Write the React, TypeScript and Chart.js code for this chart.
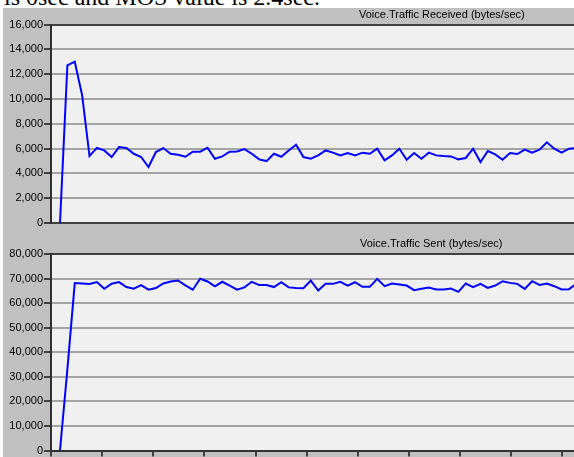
import React, { useEffect, useRef } from 'react';
import { Chart, registerables } from 'chart.js';

Chart.register(...registerables);

// ---- data ----
const RECEIVED: number[] = [
  0, 12700, 13000, 10300, 5400, 6050, 5850, 5320, 6120, 6040, 5580, 5320, 4510, 5720, 6040, 5580, 5500,
  5340, 5750, 5750, 6070, 5180, 5370, 5750, 5770, 5960, 5580, 5130, 4990, 5580, 5340, 5850, 6310,
  5320, 5180, 5450, 5850, 5670, 5450, 5640, 5450, 5670, 5580, 5990, 5050, 5450, 5990, 5100, 5640, 5180,
  5670, 5450, 5400, 5370, 5130, 5240, 5990, 4910, 5800, 5530, 5100, 5640, 5560, 5910, 5670, 5910, 6500,
  5990, 5670, 5990, 6040,
];
const SENT: number[] = [
  0, 33000, 68150, 68000, 67750, 68550, 65870, 67900, 68550, 66540, 65870, 67350, 65460, 66140, 68000,
  68830, 69230, 67200, 65460, 69900, 68830, 66800, 68690, 67080, 65460, 66410, 68690, 67350, 67350, 66540,
  68550, 66410, 66140,
  66080, 69190, 65140, 67840, 67840, 68650, 67160, 68510, 66620, 66620, 69860, 66890, 67970, 67570, 67160,
  65270, 65810, 66350, 65540, 65540, 65950, 64590, 67970, 66490, 67840, 66220, 67160, 68920, 68240, 67840,
  65810, 68920, 67430, 67970, 66890, 65540, 65680, 67900,
];
const RECEIVED_TICKS = [0, 2000, 4000, 6000, 8000, 10000, 12000, 14000, 16000];
const SENT_TICKS = [0, 10000, 20000, 30000, 40000, 50000, 60000, 70000, 80000];
const X_TICKS = [-1.22, 5.714, 12.648, 19.582, 26.516, 33.45, 40.384, 47.318, 54.252, 61.186, 68.12];
const X_MIN = -1.22;
const X_MAX = 69.68;
const TITLE_RECEIVED = 'Voice.Traffic Received (bytes/sec)';
const TITLE_SENT = 'Voice.Traffic Sent (bytes/sec)';
const HEADER_TEXT = 'is 0sec and MOS value is 2.4sec.';

const FONT = 'Liberation Sans, Arial, sans-serif';

const plotBg = {
  id: 'plotBg',
  beforeDraw(chart: any) {
    const { ctx, chartArea } = chart;
    if (!chartArea) return;
    ctx.save();
    ctx.fillStyle = '#f0f0f0';
    ctx.fillRect(chartArea.left, chartArea.top, chartArea.right - chartArea.left, chartArea.bottom - chartArea.top);
    ctx.restore();
  },
};

function fmt(v: number) {
  return v.toLocaleString('en-US');
}

interface PanelProps {
  values: number[];
  yTicks: number[];
  top: number;
  height: number;
  padTop: number;
  padBottom: number;
  showX: boolean;
}

function Panel({ values, yTicks, top, height, padTop, padBottom, showX }: PanelProps) {
  const ref = useRef<HTMLCanvasElement | null>(null);
  useEffect(() => {
    if (!ref.current) return;
    const yMax = yTicks[yTicks.length - 1];
    const chart = new Chart(ref.current, {
      type: 'line',
      data: {
        datasets: [
          {
            data: values.map((v, i) => ({ x: i, y: v })),
            borderColor: '#0000ff',
            borderWidth: 2,
            pointRadius: 0,
            tension: 0,
            fill: false,
          },
        ],
      },
      options: {
        animation: false,
        responsive: false,
        maintainAspectRatio: false,
        devicePixelRatio: 1,
        layout: { padding: { top: padTop, bottom: padBottom, left: 0, right: 0 } },
        plugins: { legend: { display: false }, tooltip: { enabled: false }, title: { display: false } },
        scales: {
          x: {
            type: 'linear',
            display: showX,
            min: X_MIN,
            max: X_MAX,
            afterBuildTicks: (s: any) => {
              s.ticks = X_TICKS.map((v) => ({ value: v }));
            },
            afterFit: (s: any) => {
              s.height = showX ? 6 : 0;
            },
            ticks: { display: false },
            grid: {
              drawOnChartArea: false,
              drawTicks: true,
              tickLength: 6,
              tickColor: '#404040',
              lineWidth: 2,
            },
            border: { display: true, color: '#303030', width: 2 },
          },
          y: {
            type: 'linear',
            min: 0,
            max: yMax,
            afterBuildTicks: (s: any) => {
              s.ticks = yTicks.map((v) => ({ value: v }));
            },
            afterFit: (s: any) => {
              s.width = 48;
            },
            ticks: {
              color: '#000000',
              padding: 1,
              font: { family: FONT, size: 11, lineHeight: 1 },
              callback: (v: any) => fmt(Number(v)),
            },
            grid: {
              color: (c: any) => (c.tick && (c.tick.value === yMax || c.tick.value === 0) ? '#404040' : '#a4a4a4'),
              lineWidth: 2,
              tickLength: 7,
              tickColor: '#404040',
            },
            border: { display: true, color: '#303030', width: 2 },
          },
        },
      } as any,
      plugins: [plotBg],
    });
    return () => chart.destroy();
  }, []);
  return (
    <canvas
      ref={ref}
      width={571}
      height={height}
      style={{ position: 'absolute', left: 3, top, width: 571, height }}
    />
  );
}

export default function App() {
  return (
    <div
      style={{
        position: 'absolute',
        left: 0,
        top: 0,
        width: 574,
        height: 457,
        overflow: 'hidden',
        background: '#ffffff',
      }}
    >
      <div
        style={{
          position: 'absolute',
          left: 4,
          top: -15.5,
          fontFamily: 'Liberation Serif, serif',
          fontSize: 24,
          lineHeight: '24px',
          whiteSpace: 'nowrap',
          color: '#000',
        }}
      >
        {HEADER_TEXT}
      </div>
      <div style={{ position: 'absolute', left: 3, top: 8, width: 571, height: 449, background: '#c0c0c0' }} />
      <Panel values={RECEIVED} yTicks={RECEIVED_TICKS} top={8} height={228} padTop={16.5} padBottom={13} showX={false} />
      <Panel values={SENT} yTicks={SENT_TICKS} top={236} height={221} padTop={18} padBottom={0} showX={true} />
      <div
        style={{
          position: 'absolute',
          left: 359,
          top: 9.4,
          fontFamily: FONT,
          fontSize: 11,
          lineHeight: '11px',
          whiteSpace: 'nowrap',
          color: '#000',
        }}
      >
        {TITLE_RECEIVED}
      </div>
      <div
        style={{
          position: 'absolute',
          left: 360,
          top: 238.4,
          fontFamily: FONT,
          fontSize: 11,
          lineHeight: '11px',
          whiteSpace: 'nowrap',
          color: '#000',
        }}
      >
        {TITLE_SENT}
      </div>
    </div>
  );
}
